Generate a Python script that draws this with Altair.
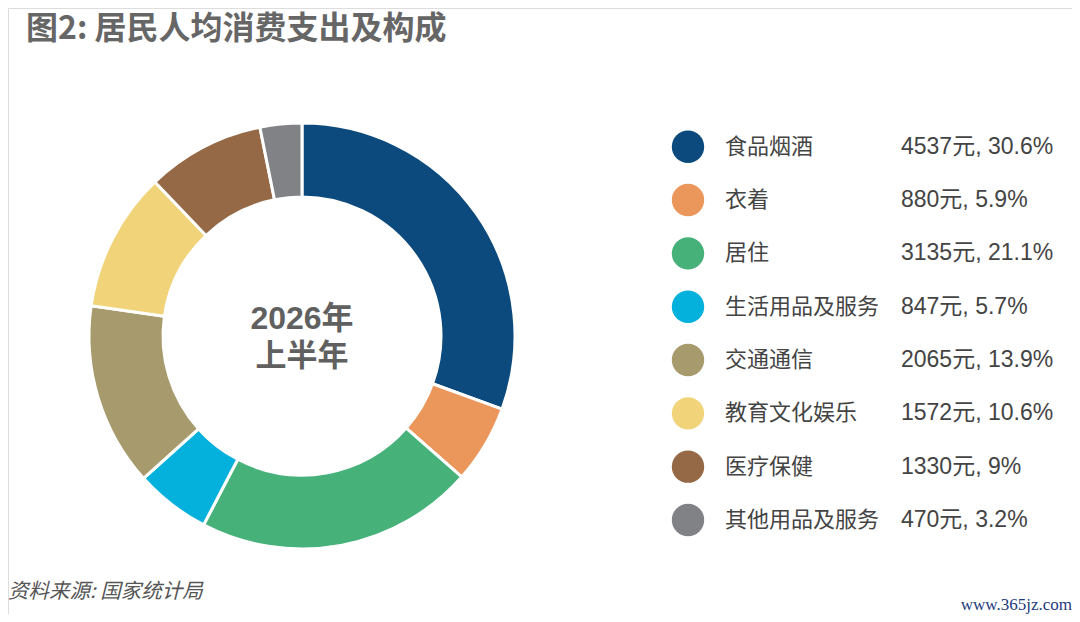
import altair as alt
import pandas as pd

cats = ["食品烟酒", "衣着", "居住", "生活用品及服务", "交通通信", "教育文化娱乐", "医疗保健", "其他用品及服务"]
values = [4537, 880, 3135, 847, 2065, 1572, 1330, 470]
pcts = ["30.6", "5.9", "21.1", "5.7", "13.9", "10.6", "9", "3.2"]
colors = ["#0c4a7e", "#eb975c", "#46b27a", "#04b0dc", "#a79a6c", "#f1d479", "#956945", "#818286"]

title_text = "图2: 居民人均消费支出及构成"
center_line1 = "2026年"
center_line2 = "上半年"
source_text = "资料来源: 国家统计局"
watermark_text = "www.365jz.com"

FONT = "Noto Sans CJK SC"
NUMFONT = "Liberation Sans, Noto Sans CJK SC"

df = pd.DataFrame({
    "cat": cats,
    "value": values,
    "label": [f"{v}元, {p}%" for v, p in zip(values, pcts)],
    "idx": list(range(len(cats))),
})

color_scale = alt.Scale(domain=cats, range=colors)
yscale = alt.Scale(domain=[0, 7], range=[138.7, 512])

base = alt.Chart(df)

arc = base.mark_arc(radius=213, radius2=139, stroke="white", strokeWidth=3).encode(
    theta=alt.Theta("value:Q", stack=True),
    color=alt.Color("cat:N", scale=color_scale, legend=None),
    order=alt.Order("idx:Q"),
    x=alt.value(294),
    y=alt.value(328),
)

dots = base.mark_circle(size=1050, opacity=1).encode(
    x=alt.value(680),
    y=alt.Y("idx:Q", scale=yscale, axis=None),
    color=alt.Color("cat:N", scale=color_scale, legend=None),
)

names = base.mark_text(align="left", baseline="middle", fontSize=22, font=FONT, color="#444444").encode(
    x=alt.value(717),
    y=alt.Y("idx:Q", scale=yscale, axis=None),
    text="cat:N",
)

labels = base.mark_text(align="left", baseline="middle", fontSize=23, font=NUMFONT, color="#444444").encode(
    x=alt.value(893),
    y=alt.Y("idx:Q", scale=yscale, axis=None),
    text="label:N",
)

title = alt.Chart(pd.DataFrame({"t": [title_text]})).mark_text(
    align="left", baseline="middle", fontSize=32, fontWeight="bold", font=FONT, color="#666666"
).encode(x=alt.value(18), y=alt.value(21), text="t:N")

center1 = alt.Chart(pd.DataFrame({"t": [center_line1]})).mark_text(
    align="center", baseline="middle", fontSize=32, fontWeight="bold", font=NUMFONT, color="#606060",
).encode(x=alt.value(294), y=alt.value(311), text="t:N")

center2 = alt.Chart(pd.DataFrame({"t": [center_line2]})).mark_text(
    align="center", baseline="middle", fontSize=31, fontWeight="bold", font=FONT, color="#606060",
).encode(x=alt.value(294), y=alt.value(349), text="t:N")

source = alt.Chart(pd.DataFrame({"t": [source_text]})).mark_text(
    align="left", baseline="middle", fontSize=20.5, font=FONT, fontStyle="italic", color="#555555"
).encode(x=alt.value(0), y=alt.value(584), text="t:N")

watermark = alt.Chart(pd.DataFrame({"t": [watermark_text]})).mark_text(
    align="right", baseline="middle", fontSize=17, font="Liberation Serif", color="#1d3b7c"
).encode(x=alt.value(1064), y=alt.value(597), text="t:N")

chart = alt.layer(arc, dots, names, labels, title, center1, center2, source, watermark).properties(
    width=1064, height=606, autosize=alt.AutoSizeParams(type="none"), padding=0
).configure_view(stroke="transparent", strokeOpacity=0, strokeWidth=0).configure(background="white")

chart.save("out.html", embed_options={"renderer": "svg", "actions": False})
